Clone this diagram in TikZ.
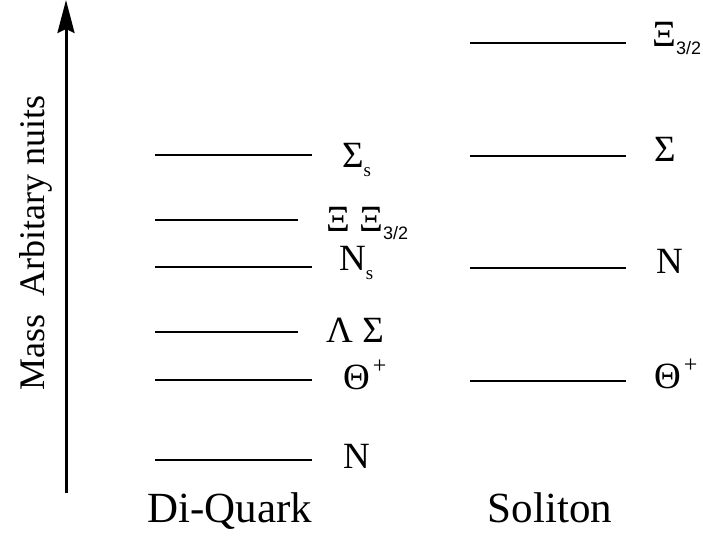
\documentclass[tikz,border=0pt]{standalone}
\usepackage{fontspec}
\setmainfont{Liberation Serif}
\newfontfamily\fracfont{Liberation Sans}
\usetikzlibrary{arrows.meta}
\newcommand{\lowsub}[1]{\raisebox{-9pt}{\fontsize{19}{19}\selectfont #1}}
\newcommand{\fracsub}[1]{\raisebox{-8pt}{\fracfont\fontsize{18}{18}\selectfont #1}}
\newcommand{\highsup}[1]{\kern3pt\raisebox{16pt}{\fontsize{24}{24}\selectfont #1}}

\begin{document}
\begin{tikzpicture}[x=1pt, y=-1pt,
  level/.style={line width=2.4pt},
  lbl/.style={anchor=base west, inner sep=0pt, font=\fontsize{37}{37}\selectfont},
  model/.style={anchor=base, inner sep=0pt, font=\fontsize{43}{43}\selectfont},
  massaxis/.style={line width=3pt, -{Stealth[length=33pt, width=17pt, inset=4pt]}},
]
\useasboundingbox (0,0) rectangle (703,537);

% mass axis
\coordinate (axbot) at (66,493);
\coordinate (axtop) at (66,0);
\draw[massaxis] (axbot) -- (axtop);
\node[model, rotate=90, font=\fontsize{36}{36}\selectfont] (masslbl) at (44,243) {Mass\ \ Arbitary nuits};

% di-quark levels
\draw[level] (155,155) -- (312,155);
\draw[level] (155,220) -- (298,220);
\draw[level] (155,267) -- (312,267);
\draw[level] (155,332) -- (298,332);
\draw[level] (155,380) -- (312,380);
\draw[level] (155,460) -- (312,460);

\node[lbl] (dqsigma) at (342,168) {Σ\lowsub{s}};
\node[lbl] (dqxi) at (326,232) {Ξ Ξ\fracsub{3/2}};
\node[lbl] (dqnuc) at (339,270) {N\lowsub{s}};
\node[lbl] (dqlam) at (326,342) {Λ Σ};
\node[lbl] (dqtheta) at (343,389) {Θ\highsup{+}};
\node[lbl] (dqn) at (343,468) {N};

% soliton levels
\draw[level] (470,43) -- (626,43);
\draw[level] (470,156) -- (626,156);
\draw[level] (470,268) -- (626,268);
\draw[level] (470,381) -- (626,381);

\node[lbl] (solxi) at (652,47) {Ξ\fracsub{3/2}};
\node[lbl] (solsigma) at (654,162) {Σ};
\node[lbl] (soln) at (656,273) {N};
\node[lbl] (soltheta) at (654,388) {Θ\highsup{+}};

\node[model] (diquark) at (230,522) {Di-Quark};
\node[model] (soliton) at (550,522) {Soliton};
\end{tikzpicture}
\end{document}
